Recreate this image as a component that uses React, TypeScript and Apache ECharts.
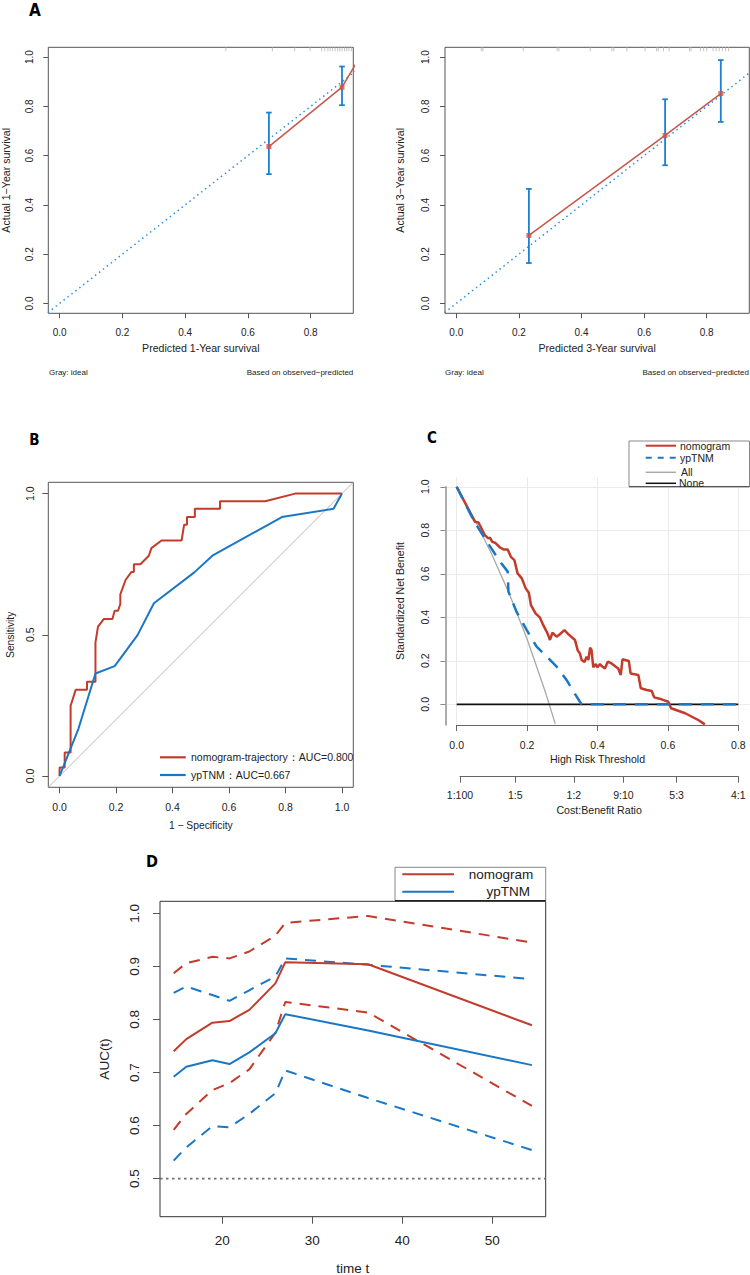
import React, { useEffect, useRef } from "react";
import * as echarts from "echarts";

const FONT = "'Liberation Sans', Arial, Helvetica, sans-serif";
const LABEL_FONT = "'DejaVu Sans Condensed', 'Liberation Sans Narrow', 'Liberation Sans', Arial, sans-serif";
const TXT = "#222";

const RED = "#C33B2B";
const BLUE = "#1A77C6";
const CAL_RED = "#C8564A";
const CAL_BLUE = "#1F80D2";
const IDEAL_BLUE = "#2A90E6";

// ---------- Panel A : calibration ----------
const calibTicksX = [0, 0.2, 0.4, 0.6, 0.8];
const calibTicksY = [0, 0.2, 0.4, 0.6, 0.8, 1.0];
const calibXRange = [-0.036, 0.936];
const calibYRange = [-0.04, 1.04];

const cal1Pred = [0.667, 0.9];
const cal1Obs = [0.637, 0.878];
const cal1Lower = [0.525, 0.805];
const cal1Upper = [0.775, 0.962];
const cal1CurvePred = [0.667, 0.9, 0.955];
const cal1CurveObs = [0.637, 0.878, 0.996];
const cal1Rug = [0.53, 0.678, 0.749, 0.798, 0.835, 0.845, 0.855, 0.862, 0.87, 0.878, 0.886, 0.893, 0.9, 0.908, 0.915, 0.922, 0.93];

const cal3Pred = [0.232, 0.667, 0.845];
const cal3Obs = [0.276, 0.682, 0.852];
const cal3Lower = [0.164, 0.561, 0.737];
const cal3Upper = [0.465, 0.829, 0.988];
const cal3Rug = [0.08, 0.085, 0.214, 0.322, 0.328, 0.428, 0.497, 0.503, 0.545, 0.603, 0.64, 0.645, 0.662, 0.68, 0.745, 0.75, 0.78, 0.79, 0.8, 0.82, 0.83, 0.84, 0.85, 0.86, 0.87];
const rugLevel = 1.032;
const idealRange = [-0.05, 1.05];

// ---------- Panel B : ROC ----------
const rocTicksX = [0, 0.2, 0.4, 0.6, 0.8, 1.0];
const rocTicksY = [0, 0.5, 1.0];
const rocRange = [-0.04, 1.04];
const rocNomogram = [
  [0, 0], [0, 0.03], [0.018, 0.03], [0.018, 0.083], [0.039, 0.083], [0.039, 0.249], [0.057, 0.305],
  [0.097, 0.305], [0.097, 0.334], [0.127, 0.334], [0.127, 0.473], [0.136, 0.529], [0.157, 0.556],
  [0.187, 0.556], [0.195, 0.585], [0.207, 0.585], [0.215, 0.609], [0.215, 0.643], [0.234, 0.695],
  [0.254, 0.722], [0.263, 0.722], [0.263, 0.75], [0.286, 0.75], [0.316, 0.78], [0.325, 0.807],
  [0.361, 0.834], [0.432, 0.834], [0.441, 0.89], [0.451, 0.89], [0.451, 0.917], [0.479, 0.917],
  [0.479, 0.946], [0.568, 0.946], [0.568, 0.973], [0.728, 0.973], [0.834, 1.0], [1.0, 1.0],
];
const rocYpTNM = [
  [0, 0], [0.067, 0.168], [0.127, 0.363], [0.195, 0.389], [0.276, 0.499], [0.334, 0.612],
  [0.477, 0.721], [0.541, 0.78], [0.787, 0.917], [0.97, 0.946], [1.0, 1.0],
];
const rocLegend = ["nomogram-trajectory：AUC=0.800", "ypTNM：AUC=0.667"];

// ---------- Panel C : decision curve ----------
const dcaTicksX = [0, 0.2, 0.4, 0.6, 0.8];
const dcaTicksY = [0, 0.2, 0.4, 0.6, 0.8, 1.0];
const dcaXRange = [-0.032, 0.832];
const dcaYRange = [-0.095, 1.045];
const cbTicks = [0.0099, 0.1667, 0.3333, 0.4737, 0.625, 0.8];
const cbLabels = ["1:100", "1:5", "1:2", "9:10", "5:3", "4:1"];
const dcaNomogram = [
  [0, 1.0], [0.052, 0.839], [0.062, 0.836], [0.08, 0.778], [0.09, 0.763], [0.095, 0.766], [0.101, 0.747],
  [0.109, 0.743], [0.123, 0.721], [0.133, 0.712], [0.145, 0.712], [0.154, 0.678], [0.164, 0.663],
  [0.173, 0.602], [0.185, 0.579], [0.196, 0.533], [0.205, 0.513], [0.211, 0.456], [0.224, 0.418],
  [0.236, 0.4], [0.246, 0.364], [0.258, 0.326], [0.265, 0.296], [0.272, 0.329], [0.284, 0.311],
  [0.293, 0.322], [0.306, 0.341], [0.317, 0.323], [0.336, 0.296], [0.344, 0.247], [0.35, 0.234],
  [0.355, 0.204], [0.363, 0.195], [0.369, 0.219], [0.374, 0.204], [0.379, 0.26], [0.383, 0.25],
  [0.388, 0.17], [0.395, 0.185], [0.4, 0.17], [0.407, 0.185], [0.412, 0.176], [0.421, 0.165],
  [0.429, 0.196], [0.44, 0.188], [0.452, 0.173], [0.459, 0.165], [0.466, 0.135], [0.471, 0.207],
  [0.478, 0.204], [0.489, 0.199], [0.494, 0.142], [0.516, 0.135], [0.523, 0.074], [0.54, 0.066],
  [0.554, 0.061], [0.561, 0.032], [0.582, 0.023], [0.601, 0.012], [0.609, -0.018], [0.649, -0.041],
  [0.686, -0.072], [0.705, -0.092],
];
const dcaYpTNM = [
  [0, 1.0], [0.05, 0.84], [0.08, 0.763], [0.12, 0.663], [0.145, 0.61], [0.147, 0.518], [0.17, 0.426],
  [0.199, 0.341], [0.227, 0.265], [0.256, 0.219], [0.284, 0.173], [0.312, 0.112], [0.341, 0.035],
  [0.355, 0], [0.8, 0],
];
const dcaAll = [[0, 1.0], [0.05, 0.853], [0.1, 0.689], [0.15, 0.506], [0.2, 0.3], [0.25, 0.066], [0.263, 0], [0.28, -0.09]];
const dcaNone = [[0, 0], [0.8, 0]];
const dcaLegend = ["nomogram", "ypTNM", "All", "None"];

// ---------- Panel D : time-dependent AUC ----------
const aucTicksX = [20, 30, 40, 50];
const aucTicksY = [0.5, 0.6, 0.7, 0.8, 0.9, 1.0];
const aucXRange = [13.08, 55.93];
const aucYRange = [0.4284, 1.0226];
const times = [14.6, 16.0, 18.9, 20.8, 23.0, 25.9, 27.0, 36.2, 54.4];
const nomAuc = [0.740, 0.763, 0.794, 0.797, 0.818, 0.868, 0.908, 0.904, 0.789];
const nomUpper = [0.887, 0.906, 0.918, 0.915, 0.928, 0.958, 0.982, 0.995, 0.945];
const nomLower = [0.592, 0.622, 0.667, 0.680, 0.706, 0.775, 0.833, 0.813, 0.637];
const tnmAuc = [0.692, 0.711, 0.723, 0.716, 0.738, 0.774, 0.810, 0.779, 0.714];
const tnmUpper = [0.850, 0.862, 0.846, 0.835, 0.855, 0.881, 0.915, 0.903, 0.876];
const tnmLower = [0.534, 0.559, 0.599, 0.597, 0.622, 0.661, 0.704, 0.652, 0.554];
const chanceLevel = 0.5;
const aucLegend = ["nomogram", "ypTNM"];

// ---------- helpers ----------
type AxisCfg = {
  grid: number; min: number; max: number; ticks?: number[]; fmt?: (v: number) => string;
  fontSize?: number; margin?: number; tickLen?: number; rotate?: number; name?: string;
  nameGap?: number; nameSize?: number; split?: boolean; line?: boolean; lineColor?: string;
  lineWidth?: number; offset?: number; show?: boolean; position?: string; tickColor?: string;
};
function axis(c: AxisCfg) {
  const has = !!c.ticks;
  return {
    type: "value",
    gridIndex: c.grid,
    min: c.min,
    max: c.max,
    show: c.show ?? true,
    position: c.position,
    offset: c.offset ?? 0,
    axisLine: { show: !!c.line, onZero: false, lineStyle: { color: c.lineColor ?? "#555", width: c.lineWidth ?? 1 } },
    axisTick: has
      ? { show: true, inside: false, length: c.tickLen ?? 5, customValues: c.ticks, lineStyle: { color: c.tickColor ?? "#555", width: 1 } }
      : { show: false },
    axisLabel: has
      ? {
          show: true, customValues: c.ticks, formatter: c.fmt, fontSize: c.fontSize ?? 10,
          margin: c.margin ?? 13, rotate: c.rotate ?? 0, color: TXT, fontFamily: FONT,
        }
      : { show: false },
    splitLine: c.split ? { show: true, lineStyle: { color: "#ebebeb", width: 1 } } : { show: false },
    name: c.name ?? "",
    nameLocation: "middle",
    nameGap: c.nameGap ?? 30,
    nameTextStyle: { fontSize: c.nameSize ?? 10.6, color: TXT, fontFamily: FONT },
  };
}
const f1 = (v: number) => Number(v).toFixed(1);

function line(grid: number, data: number[][], color: string, width: number, type: any = "solid", z = 2) {
  return {
    type: "line", xAxisIndex: grid, yAxisIndex: grid, data, showSymbol: false, symbol: "none",
    lineStyle: { color, width, type }, silent: true, z, clip: true,
  };
}
function errorBars(grid: number, pred: number[], lower: number[], upper: number[]) {
  return {
    type: "custom", xAxisIndex: grid, yAxisIndex: grid, silent: true, z: 3,
    data: pred.map((p, i) => [p, lower[i], upper[i]]),
    encode: { x: 0, y: [1, 2] },
    renderItem: (_params: any, api: any) => {
      const lo = api.coord([api.value(0), api.value(1)]);
      const hi = api.coord([api.value(0), api.value(2)]);
      const cap = 2.8;
      const style = { stroke: CAL_BLUE, lineWidth: 1.8 };
      return {
        type: "group",
        children: [
          { type: "line", shape: { x1: lo[0], y1: lo[1], x2: hi[0], y2: hi[1] }, style },
          { type: "line", shape: { x1: lo[0] - cap, y1: lo[1], x2: lo[0] + cap, y2: lo[1] }, style },
          { type: "line", shape: { x1: hi[0] - cap, y1: hi[1], x2: hi[0] + cap, y2: hi[1] }, style },
        ],
      };
    },
  };
}
function points(grid: number, xs: number[], ys: number[]) {
  return {
    type: "scatter", xAxisIndex: grid, yAxisIndex: grid, silent: true, z: 4,
    data: xs.map((x, i) => [x, ys[i]]), symbol: "rect", symbolSize: 5,
    itemStyle: { color: CAL_RED },
  };
}
function rug(grid: number, xs: number[]) {
  return {
    type: "scatter", xAxisIndex: grid, yAxisIndex: grid, silent: true, z: 1,
    data: xs.map((x) => [x, rugLevel]), symbol: "rect", symbolSize: [1, 4],
    itemStyle: { color: "#b5b5b5" },
  };
}
const pairs = (xs: number[], ys: number[]) => xs.map((x, i) => [x, ys[i]]);

function txt(x: number, y: number, text: string, size: number, align = "left", extra: any = {}) {
  return {
    type: "text", x, y, z: 100,
    style: { text, fill: TXT, fontSize: size, fontFamily: FONT, align, verticalAlign: "middle", ...extra },
  };
}
function seg(x1: number, y1: number, x2: number, y2: number, stroke: string, lineWidth: number, lineDash?: number[]) {
  return { type: "line", z: 100, shape: { x1, y1, x2, y2 }, style: { stroke, lineWidth, lineDash } };
}

const gridBox = { show: true, borderColor: "#555", borderWidth: 1, backgroundColor: "transparent", containLabel: false, outerBoundsMode: "none" };
const gridPlain = { show: false, containLabel: false, outerBoundsMode: "none" };

const option: any = {
  animation: false,
  backgroundColor: "#fff",
  grid: [
    { ...gridBox, left: 48.3, top: 47.3, width: 305, height: 266 }, // 0 A1
    { ...gridBox, left: 445, top: 47.3, width: 304.3, height: 266 }, // 1 A2
    { ...gridBox, left: 48.3, top: 482.3, width: 305, height: 305 }, // 2 B
    { ...gridPlain, left: 445.4, top: 477, width: 304.2, height: 248 }, // 3 C main
    { ...gridPlain, left: 456.7, top: 486.7, width: 281.6, height: 238.3 }, // 4 C axis lines
    { ...gridPlain, left: 460, top: 477, width: 278.3, height: 248 }, // 5 C cost-benefit
    { ...gridBox, borderColor: "#333", left: 160, top: 901.3, width: 385.7, height: 315.4 }, // 6 D
  ],
  xAxis: [
    axis({ grid: 0, min: calibXRange[0], max: calibXRange[1], ticks: calibTicksX, fmt: f1, margin: 13.7, name: "Predicted 1-Year survival", nameGap: 29.4 }),
    axis({ grid: 1, min: calibXRange[0], max: calibXRange[1], ticks: calibTicksX, fmt: f1, margin: 13.7, name: "Predicted 3-Year survival", nameGap: 29.4 }),
    axis({ grid: 2, min: rocRange[0], max: rocRange[1], ticks: rocTicksX, fmt: f1, fontSize: 10.5, margin: 14.1, tickLen: 6, name: "1 − Specificity", nameGap: 33.2, nameSize: 10.3 }),
    axis({ grid: 3, min: dcaXRange[0], max: dcaXRange[1], ticks: dcaTicksX, fmt: f1, fontSize: 10.5, margin: 14, tickLen: 6, tickColor: "#666", split: true, name: "High Risk Threshold", nameGap: 28.7 }),
    axis({ grid: 4, min: 0, max: 1, line: true, lineColor: "#666", lineWidth: 1.2 }),
    axis({ grid: 5, min: cbTicks[0], max: cbTicks[cbTicks.length - 1], ticks: cbTicks, offset: 51.7, line: true, lineColor: "#666", lineWidth: 1.2, tickColor: "#666", tickLen: 6, fontSize: 10.5, margin: 12.4,
      fmt: (v: number) => cbLabels[cbTicks.findIndex((t) => Math.abs(t - v) < 1e-6)] ?? "", name: "Cost:Benefit Ratio", nameGap: 28 }),
    axis({ grid: 6, min: aucXRange[0], max: aucXRange[1], ticks: aucTicksX, fmt: (v: number) => String(v), fontSize: 13.5, margin: 16.5, tickLen: 7, name: "time t", nameGap: 44.5, nameSize: 13.5 }),
  ],
  yAxis: [
    axis({ grid: 0, min: calibYRange[0], max: calibYRange[1], ticks: calibTicksY, fmt: f1, margin: 13.4, rotate: 90, name: "Actual 1−Year survival", nameGap: 37.3 }),
    axis({ grid: 1, min: calibYRange[0], max: calibYRange[1], ticks: calibTicksY, fmt: f1, margin: 14.2, rotate: 90, name: "Actual 3−Year survival", nameGap: 39.7 }),
    axis({ grid: 2, min: rocRange[0], max: rocRange[1], ticks: rocTicksY, fmt: f1, fontSize: 10.5, margin: 12.8, tickLen: 6, rotate: 90, name: "Sensitivity", nameGap: 33, nameSize: 10.3 }),
    axis({ grid: 3, min: dcaYRange[0], max: dcaYRange[1], ticks: dcaTicksY, fmt: f1, fontSize: 10.5, margin: 15.1, tickLen: 5, tickColor: "#888", rotate: 90, split: true, name: "Standardized Net Benefit", nameGap: 40 }),
    axis({ grid: 4, min: 0, max: 1, line: true, lineColor: "#999", lineWidth: 1.6, offset: 11.3 }),
    axis({ grid: 5, min: 0, max: 1, show: false }),
    axis({ grid: 6, min: aucYRange[0], max: aucYRange[1], ticks: aucTicksY, fmt: f1, fontSize: 13.5, margin: 18.2, tickLen: 7, rotate: 90, name: "AUC(t)", nameGap: 48.7, nameSize: 13.5 }),
  ],
  series: [
    // A1
    rug(0, cal1Rug),
    line(0, idealRange.map((v) => [v, v]), IDEAL_BLUE, 1.5, [1.5, 3.5], 2),
    errorBars(0, cal1Pred, cal1Lower, cal1Upper),
    line(0, pairs(cal1CurvePred, cal1CurveObs), CAL_RED, 1.5, "solid", 3),
    points(0, cal1Pred, cal1Obs),
    // A2
    rug(1, cal3Rug),
    line(1, idealRange.map((v) => [v, v]), IDEAL_BLUE, 1.5, [1.5, 3.5], 2),
    errorBars(1, cal3Pred, cal3Lower, cal3Upper),
    line(1, pairs(cal3Pred, cal3Obs), CAL_RED, 1.5, "solid", 3),
    points(1, cal3Pred, cal3Obs),
    // B
    line(2, [[rocRange[0], rocRange[0]], [rocRange[1], rocRange[1]]], "#b0b0b0", 0.9),
    line(2, rocNomogram, RED, 2, "solid", 3),
    line(2, rocYpTNM, BLUE, 2, "solid", 3),
    // C
    line(3, dcaAll, "#a8a8a8", 1.3, "solid", 2),
    line(3, dcaNone, "#111", 1.6, "solid", 2),
    line(3, dcaNomogram, RED, 2.5, "solid", 3),
    line(3, dcaYpTNM, BLUE, 2.5, [13, 9], 4),
    // D
    line(6, [[aucXRange[0], chanceLevel], [aucXRange[1], chanceLevel]], "#707070", 1.8, [2.5, 3.5], 2),
    line(6, pairs(times, nomUpper), RED, 2, [11, 8], 3),
    line(6, pairs(times, nomLower), RED, 2, [11, 8], 3),
    line(6, pairs(times, tnmUpper), BLUE, 2, [11, 8], 3),
    line(6, pairs(times, tnmLower), BLUE, 2, [11, 8], 3),
    line(6, pairs(times, nomAuc), RED, 2, "solid", 4),
    line(6, pairs(times, tnmAuc), BLUE, 2, "solid", 4),
  ],
  graphic: {
    elements: [
      // panel letters
      txt(35, 9.5, "A", 17, "center", { fontWeight: "bold", fontFamily: LABEL_FONT, fill: "#000" }),
      txt(34.5, 440, "B", 15, "center", { fontWeight: "bold", fontFamily: LABEL_FONT, fill: "#000" }),
      txt(432, 438, "C", 15, "center", { fontWeight: "bold", fontFamily: LABEL_FONT, fill: "#000" }),
      txt(152, 861, "D", 16, "center", { fontWeight: "bold", fontFamily: LABEL_FONT, fill: "#000" }),
      // A footnotes
      txt(49, 372, "Gray: ideal", 8),
      txt(353.3, 372, "Based on observed−predicted", 8, "right"),
      txt(445, 372, "Gray: ideal", 8),
      txt(749, 372, "Based on observed−predicted", 8, "right"),
      // B legend
      seg(160, 757.3, 185.7, 757.3, RED, 2.2),
      txt(191, 757.3, rocLegend[0], 10.5),
      seg(160, 775, 185.7, 775, BLUE, 2.2),
      txt(191, 775, rocLegend[1], 10.5),
      // C legend
      { type: "rect", z: 99, shape: { x: 629, y: 441, width: 120.5, height: 45.7 }, style: { fill: "#fff", stroke: "#888", lineWidth: 1 } },
      seg(629, 486.7, 749.5, 486.7, "#444", 1),
      seg(645.7, 445.7, 676, 445.7, RED, 2),
      txt(680, 445.7, dcaLegend[0], 10.5),
      seg(645.7, 457.7, 676, 457.7, BLUE, 2, [6, 6]),
      txt(680, 457.7, dcaLegend[1], 10.5),
      seg(645.7, 472.3, 676, 472.3, "#aaa", 1.5),
      txt(681, 472.3, dcaLegend[2], 10.5),
      seg(645.7, 483.3, 676, 483.3, "#111", 1.5),
      txt(679, 483.3, dcaLegend[3], 10.5),
      // D legend
      { type: "rect", z: 99, shape: { x: 395, y: 867.3, width: 150.7, height: 33.4 }, style: { fill: "#fff", stroke: "#888", lineWidth: 1 } },
      seg(395, 900.7, 545.7, 900.7, "#222", 1.5),
      seg(402.3, 874.3, 454, 874.3, RED, 2),
      txt(533.3, 874.3, aucLegend[0], 13.5, "right"),
      seg(402.3, 891.7, 454, 891.7, BLUE, 2),
      txt(530, 891.7, aucLegend[1], 13.5, "right"),
    ],
  },
};

export default function App() {
  const ref = useRef<HTMLDivElement>(null);
  useEffect(() => {
    if (!ref.current) return;
    const chart = echarts.init(ref.current, null, { renderer: "svg" });
    chart.setOption(option);
    return () => chart.dispose();
  }, []);
  return (
    <div
      ref={ref}
      style={{ position: "absolute", left: 0, top: 0, width: 750, height: 1275, background: "#fff" }}
    />
  );
}
